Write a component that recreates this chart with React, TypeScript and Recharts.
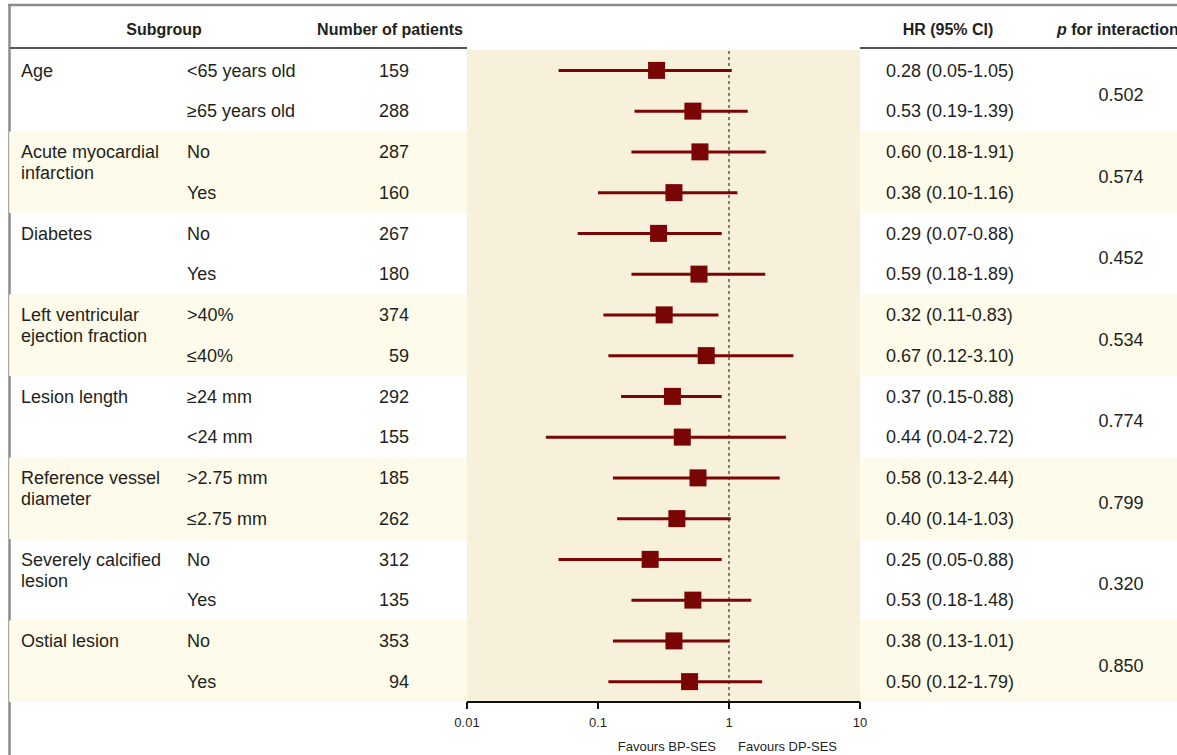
import React from 'react';
import {
  ComposedChart,
  Scatter,
  ErrorBar,
  XAxis,
  YAxis,
  ReferenceArea,
  ReferenceLine,
  Customized,
} from 'recharts';

const FONT = '"Liberation Sans", Arial, sans-serif';
const INK = '#231f20';
const MARK = '#7a0505';
const BAND = '#fefbea';
const PLOT_BG = '#f7f1dc';

// table content
const groupNames = [
  'Age',
  'Acute myocardial\ninfarction',
  'Diabetes',
  'Left ventricular\nejection fraction',
  'Lesion length',
  'Reference vessel\ndiameter',
  'Severely calcified\nlesion',
  'Ostial lesion',
];
const groupStarts = [0, 2, 4, 6, 8, 10, 12, 14];
const pInteraction = ['0.502', '0.574', '0.452', '0.534', '0.774', '0.799', '0.320', '0.850'];

const subgroups = [
  '<65 years old', '≥65 years old',
  'No', 'Yes',
  'No', 'Yes',
  '>40%', '≤40%',
  '≥24 mm', '<24 mm',
  '>2.75 mm', '≤2.75 mm',
  'No', 'Yes',
  'No', 'Yes',
];
const patients = [159, 288, 287, 160, 267, 180, 374, 59, 292, 155, 185, 262, 312, 135, 353, 94];

// hazard ratios with 95% CI
const hr = [0.28, 0.53, 0.6, 0.38, 0.29, 0.59, 0.32, 0.67, 0.37, 0.44, 0.58, 0.4, 0.25, 0.53, 0.38, 0.5];
const ciLow = [0.05, 0.19, 0.18, 0.1, 0.07, 0.18, 0.11, 0.12, 0.15, 0.04, 0.13, 0.14, 0.05, 0.18, 0.13, 0.12];
const ciHigh = [1.05, 1.39, 1.91, 1.16, 0.88, 1.89, 0.83, 3.1, 0.88, 2.72, 2.44, 1.03, 0.88, 1.48, 1.01, 1.79];

const xTicks = [0.01, 0.1, 1, 10];

const fmt = (v: number) => v.toFixed(2);

const rows = hr.map((v, i) => ({
  row: i,
  hr: v,
  ci: [v - ciLow[i], ciHigh[i] - v],
}));

const rowTicks = rows.map(r => r.row);
const rightTicks = [...rowTicks, ...groupStarts.map(s => s + 0.6)];

const Square = ({ cx, cy }: any) => (
  <rect x={cx - 8.5} y={cy - 8.5} width={17} height={17} fill={MARK} />
);

const Nothing = () => <g />;

const LeftTick = ({ y, payload }: any) => {
  const i = payload.value;
  const g = groupStarts.indexOf(i);
  const lines = g >= 0 ? groupNames[g].split('\n') : [];
  return (
    <g fontFamily={FONT} fontSize={18} fill={INK}>
      {lines.map((t, k) => (
        <text key={k} x={21} y={y + k * 21} dy="0.35em">{t}</text>
      ))}
      <text x={187} y={y} dy="0.35em">{subgroups[i]}</text>
      <text x={409} y={y} dy="0.35em" textAnchor="end">{patients[i]}</text>
    </g>
  );
};

const RightTick = ({ y, payload }: any) => {
  const v = payload.value;
  if (!Number.isInteger(v)) {
    const g = groupStarts.indexOf(Math.round(v - 0.6));
    return (
      <text x={1121} y={y} dy="0.35em" textAnchor="middle" fontFamily={FONT} fontSize={18} fill={INK}>
        {pInteraction[g]}
      </text>
    );
  }
  return (
    <text x={886} y={y} dy="0.35em" fontFamily={FONT} fontSize={18} fill={INK}>
      {`${fmt(hr[v])} (${fmt(ciLow[v])}-${fmt(ciHigh[v])})`}
    </text>
  );
};

const FavoursLabel = ({ viewBox }: any) => {
  const { x, y, height } = viewBox;
  const ty = y + height + 44;
  return (
    <g fontFamily={FONT} fontSize={13} fill={INK}>
      <text x={x - 13} y={ty} dy="0.35em" textAnchor="end">Favours BP-SES</text>
      <text x={x + 9} y={ty} dy="0.35em">Favours DP-SES</text>
    </g>
  );
};

// frame and column headers
const TableHeader = () => (
  <g>
    <line x1={8} y1={5} x2={1177} y2={5} stroke="#8c8c8c" strokeWidth={2.5} />
    <line x1={9.5} y1={4} x2={9.5} y2={755} stroke="#8c8c8c" strokeWidth={2.5} />
    <line x1={10} y1={48} x2={467} y2={48} stroke="#555" strokeWidth={2} />
    <line x1={860} y1={48} x2={1177} y2={48} stroke="#555" strokeWidth={2} />
    <g fontFamily={FONT} fontSize={16} fontWeight="bold" fill={INK}>
      <text x={164} y={29} dy="0.35em" textAnchor="middle">Subgroup</text>
      <text x={390} y={29} dy="0.35em" textAnchor="middle">Number of patients</text>
      <text x={948} y={29} dy="0.35em" textAnchor="middle">HR (95% CI)</text>
      <text x={1057} y={29} dy="0.35em">
        <tspan fontStyle="italic">p</tspan> for interaction
      </text>
    </g>
  </g>
);

export default function App() {
  return (
    <div style={{ position: 'absolute', left: 0, top: 0, width: 1177, height: 755, background: '#fff' }}>
      <ComposedChart
        width={1177}
        height={755}
        data={rows}
        margin={{ top: 50, right: 0, bottom: 0, left: 0 }}
      >
        <XAxis
          dataKey="hr"
          type="number"
          scale="log"
          domain={[0.01, 10]}
          ticks={xTicks}
          allowDataOverflow
          height={53}
          axisLine={{ stroke: '#111', strokeWidth: 2 }}
          tickLine={{ stroke: '#111', strokeWidth: 2 }}
          tickSize={7}
          tickMargin={9}
          tick={{ fontSize: 13, fill: INK, fontFamily: FONT }}
        />
        <YAxis
          dataKey="row"
          type="number"
          domain={[-0.5, 15.5]}
          reversed
          ticks={rowTicks}
          interval={0}
          width={467}
          axisLine={false}
          tickLine={false}
          tick={<LeftTick />}
        />
        <YAxis
          yAxisId="right"
          dataKey="row"
          orientation="right"
          type="number"
          domain={[-0.5, 15.5]}
          allowDataOverflow
          reversed
          ticks={rightTicks}
          interval={0}
          width={317}
          axisLine={false}
          tickLine={false}
          tick={<RightTick />}
        />
        {groupStarts
          .filter((_, g) => g % 2 === 1)
          .map(s => (
            <ReferenceArea
              key={`band-${s}`}
              x1={3.2e-6}
              x2={1e4}
              y1={s - 0.5}
              y2={s + 1.5}
              fill={BAND}
              fillOpacity={1}
              stroke="none"
              ifOverflow="visible"
            />
          ))}
        <ReferenceArea x1={0.01} x2={10} y1={-0.5} y2={15.5} fill={PLOT_BG} fillOpacity={1} stroke="none" />
        <ReferenceLine
          x={1}
          stroke="#333"
          strokeWidth={1.2}
          strokeDasharray="3 3"
          label={(props: any) => <FavoursLabel {...props} />}
        />
        <Scatter data={rows} dataKey="hr" shape={<Square />} isAnimationActive={false}>
          <ErrorBar dataKey="ci" direction="x" width={0} stroke={MARK} strokeWidth={3} isAnimationActive={false} />
        </Scatter>
        {/* invisible series so the right-hand axis gets a scale */}
        <Scatter data={rows} dataKey="hr" yAxisId="right" shape={<Nothing />} isAnimationActive={false} />
        <Customized component={TableHeader} />
      </ComposedChart>
    </div>
  );
}
